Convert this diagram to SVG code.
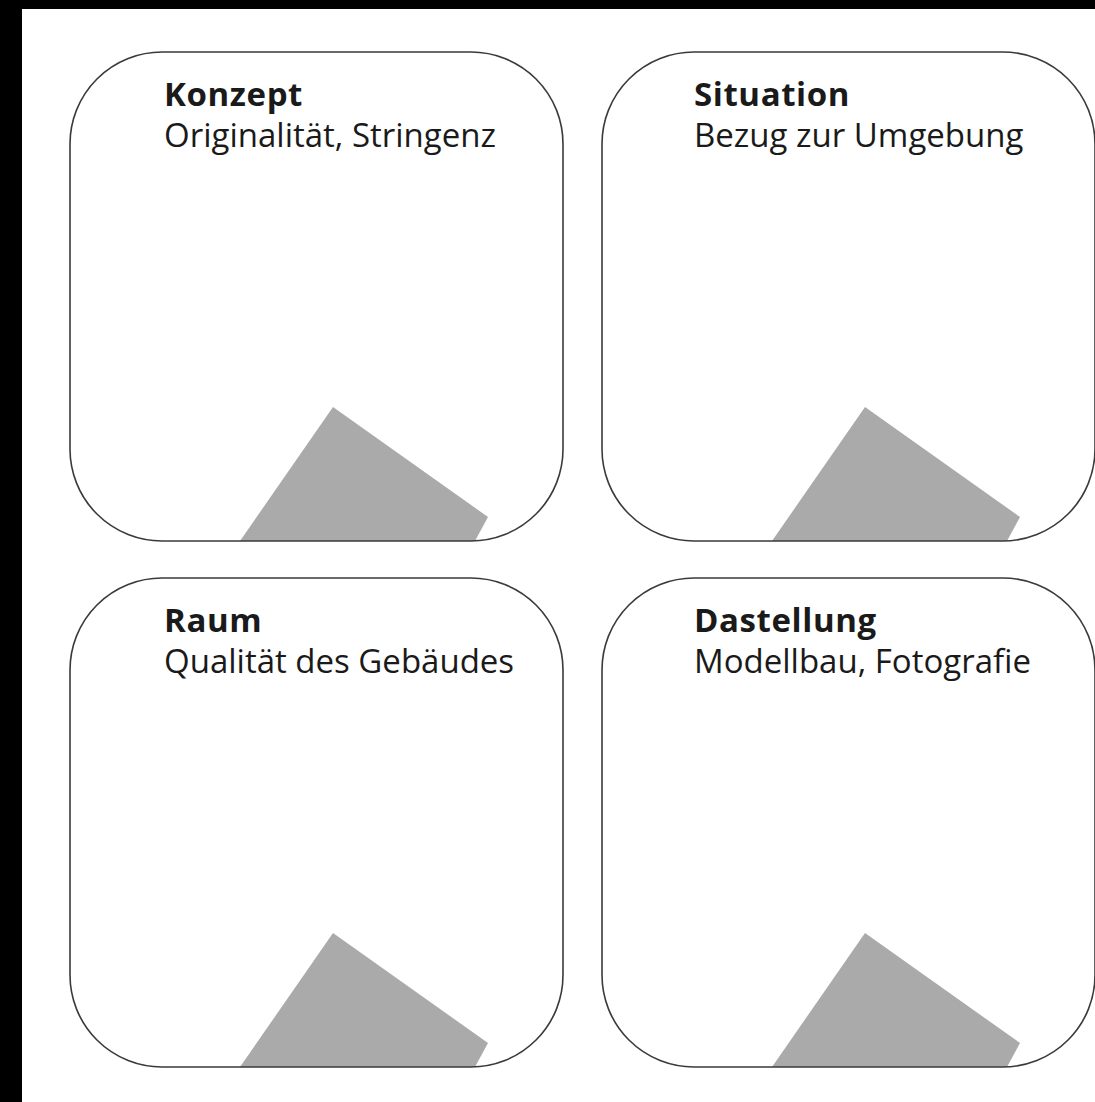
<svg xmlns="http://www.w3.org/2000/svg" width="1095" height="1102" viewBox="0 0 1095 1102">
<style>
.box{fill:none;stroke:#3a3a3a;stroke-width:1.6}
.flap{fill:#aaaaaa}
.t{font-family:"Open Sans","DejaVu Sans",sans-serif;font-size:33px;fill:#1a1a1a}
.b{font-weight:bold;font-size:33px;letter-spacing:0.6px}
</style>
<defs>
<polygon id="flap" class="flap" points="333,407 488,517 475,541 240,541"/>
</defs>
<rect x="0" y="0" width="1095" height="1102" fill="#ffffff"/>
<rect x="0" y="0" width="1095" height="9" fill="#000000"/>
<rect x="0" y="0" width="22" height="1102" fill="#000000"/>
<g id="konzept">
<use href="#flap"/>
<rect class="box" x="70" y="52" width="493" height="489" rx="92" ry="92"/>
<text class="t b" x="164" y="106">Konzept</text>
<text class="t" x="164" y="147">Originalität, Stringenz</text>
</g>
<g id="situation" transform="translate(532,0)">
<use href="#flap"/>
<rect class="box" x="70" y="52" width="493" height="489" rx="92" ry="92"/>
<text class="t b" x="162" y="106">Situation</text>
<text class="t" x="162" y="147">Bezug zur Umgebung</text>
</g>
<g id="raum" transform="translate(0,526)">
<use href="#flap"/>
<rect class="box" x="70" y="52" width="493" height="489" rx="92" ry="92"/>
<text class="t b" x="164" y="106">Raum</text>
<text class="t" x="164" y="147">Qualität des Gebäudes</text>
</g>
<g id="dastellung" transform="translate(532,526)">
<use href="#flap"/>
<rect class="box" x="70" y="52" width="493" height="489" rx="92" ry="92"/>
<text class="t b" x="162" y="106">Dastellung</text>
<text class="t" x="162" y="147">Modellbau, Fotografie</text>
</g>
<g id="connectors"/>
</svg>
